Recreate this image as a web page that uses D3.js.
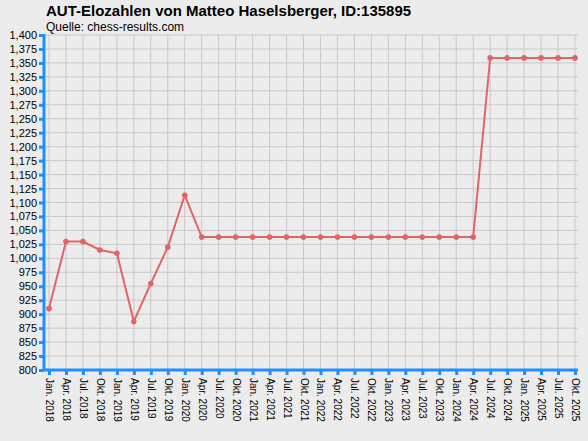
<!DOCTYPE html>
<html>
<head>
<meta charset="utf-8">
<style>
body { margin: 0; background: #ececec; font-family: "Liberation Sans", Arial, sans-serif; }
</style>
</head>
<body>
<svg id="chart" width="588" height="441"></svg>
<script src="https://d3js.org/d3.v7.min.js"></script>
<script>
var dates = ["Jan. 2018","Apr. 2018","Jul. 2018","Okt. 2018","Jan. 2019","Apr. 2019","Jul. 2019","Okt. 2019",
  "Jan. 2020","Apr. 2020","Jul. 2020","Okt. 2020","Jan. 2021","Apr. 2021","Jul. 2021","Okt. 2021",
  "Jan. 2022","Apr. 2022","Jul. 2022","Okt. 2022","Jan. 2023","Apr. 2023","Jul. 2023","Okt. 2023",
  "Jan. 2024","Apr. 2024","Jul. 2024","Okt. 2024","Jan. 2025","Apr. 2025","Jul. 2025","Okt. 2025"];
var elo = [910,1030,1030,1015,1009,887,955,1020,1113,1038,1038,1038,1038,1038,1038,1038,
  1038,1038,1038,1038,1038,1038,1038,1038,1038,1038,1359,1359,1359,1359,1359,1359];
var yTicks = d3.range(800, 1401, 25);

var svg = d3.select("#chart");
var pLeft = 44, pRight = 578, pTop = 35, pBottom = 370;

var x = d3.scalePoint().domain(dates).range([49, 575]);
var y = d3.scaleLinear().domain([800, 1400]).range([pBottom, pTop]);

svg.append("text").attr("x", 46).attr("y", 16).attr("font-size", 15).attr("font-weight", "bold")
  .text("AUT-Elozahlen von Matteo Haselsberger, ID:135895");
svg.append("text").attr("x", 46).attr("y", 31).attr("font-size", 12)
  .text("Quelle: chess-results.com");

// grid
svg.append("g").selectAll("line").data(yTicks.slice(1)).join("line")
  .attr("x1", pLeft).attr("x2", pRight).attr("y1", y).attr("y2", y)
  .attr("stroke", "#c8c8c8");
svg.append("g").selectAll("line").data(dates).join("line")
  .attr("x1", x).attr("x2", x).attr("y1", pTop).attr("y2", pBottom)
  .attr("stroke", "#c8c8c8");

// axes
var yAxis = svg.append("g").attr("transform", "translate(" + pLeft + ",0)")
  .call(d3.axisLeft(y).tickValues(yTicks).tickSize(5).tickPadding(2));
var xAxis = svg.append("g").attr("transform", "translate(0," + pBottom + ")")
  .call(d3.axisBottom(x).tickSize(5).tickSizeOuter(0));
[yAxis, xAxis].forEach(function(a) {
  a.select(".domain").attr("stroke", "#1e90ff").attr("stroke-width", 3);
  a.selectAll(".tick line").attr("stroke", "#1e90ff").attr("stroke-width", 3);
  a.selectAll("text").attr("fill", "#000").attr("font-size", 11).attr("font-family", "Liberation Sans, Arial, sans-serif");
});
yAxis.select(".domain").attr("d", "M0," + (pTop - 1) + "V" + pBottom);
xAxis.select(".domain").attr("d", "M" + pLeft + ",0H" + pRight);
xAxis.selectAll("text").attr("transform", "rotate(90)").attr("text-anchor", "start")
  .attr("x", 8).attr("y", 0).attr("dy", "0.35em").attr("font-size", 10);

// line
var pts = dates.map(function(d, i) { return [x(d), y(elo[i])]; });
svg.append("path").datum(pts).attr("d", d3.line())
  .attr("fill", "none").attr("stroke", "#e06666").attr("stroke-width", 2);
svg.append("g").selectAll("circle").data(pts).join("circle")
  .attr("cx", function(d) { return d[0]; }).attr("cy", function(d) { return d[1]; })
  .attr("r", 2.8).attr("fill", "#e06666");
</script>
</body>
</html>
